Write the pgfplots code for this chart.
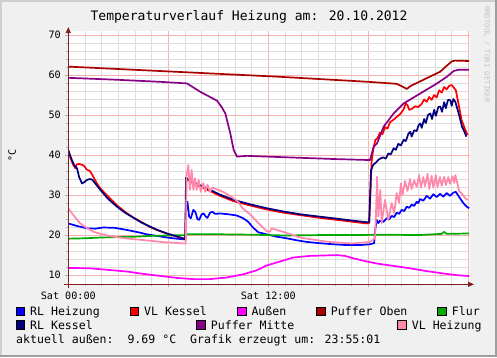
\documentclass[border=0pt]{standalone}
\usepackage{fontspec}
\setmainfont{DejaVu Sans Mono}
\usepackage{pgfplots}
\pgfplotsset{compat=1.18}
\usetikzlibrary{arrows.meta}
\definecolor{cRLH}{RGB}{0,0,255}
\definecolor{cVLK}{RGB}{255,0,0}
\definecolor{cAus}{RGB}{255,0,255}
\definecolor{cPO}{RGB}{170,0,0}
\definecolor{cFlur}{RGB}{0,170,0}
\definecolor{cRLK}{RGB}{0,0,128}
\definecolor{cPM}{RGB}{136,0,136}
\definecolor{cVLH}{RGB}{255,136,170}
\definecolor{cBack}{RGB}{240,240,240}
\definecolor{cShadeA}{RGB}{207,207,207}
\definecolor{cShadeB}{RGB}{158,158,158}
\definecolor{cGrid}{RGB}{222,222,222}
\definecolor{cMGrid}{RGB}{242,178,178}
\definecolor{cAxis}{RGB}{128,32,32}
\definecolor{cWater}{RGB}{195,195,195}
\begin{document}
\begin{tikzpicture}[x=1bp,y=1bp]
\fill[cBack] (0,0) rectangle (497,357);
\fill[cShadeA] (0,0) rectangle (2,357);
\fill[cShadeA] (0,355) rectangle (497,357);
\fill[cShadeB] (0,0) rectangle (497,2);
\fill[cShadeB] (495,0) rectangle (497,357);
\begin{axis}[
  at={(68.3bp,72.7bp)}, anchor=south west,
  scale only axis, width=401.7bp, height=253.3bp,
  xmin=0, xmax=24.1, ymin=7.7, ymax=71,
  axis background/.style={fill=white},
  axis line style={draw=none},
  grid=both,
  major grid style={draw=cMGrid, line width=0.8bp},
  minor grid style={draw=cGrid, line width=0.6bp},
  xtick={0,6,12,18,24}, xticklabels={Sat 00:00,,Sat 12:00,,},
  minor x tick num=5,
  ytick={10,20,30,40,50,60,70},
  minor y tick num=4,
  tick align=outside,
  major tick length=3bp, minor tick length=2bp,
  tick style={draw=gray!60, line width=0.6bp},
  xtick pos=bottom, ytick pos=left,
  /pgf/number format/assume math mode=true,
  ticklabel style={font=\fontsize{10.2}{12}\selectfont, text=black},
  xticklabel style={yshift=-1bp},
  yticklabel style={xshift=-1bp},
  every axis plot/.append style={line width=1.7bp, line join=round, mark=none},
]
% RL Heizung
\addplot[cRLH] coordinates {(0,22.9)(0.5,22.3)(1.1,21.7)(1.6,21.6)(2.1,21.9)(2.8,21.8)(3.5,21.3)(4.2,20.7)(4.7,20.2)(5.3,19.8)(5.9,19.4)(6.5,19.1)(7.02,18.9)(7.08,27.5)(7.15,28.3)(7.25,24.6)(7.35,24.2)(7.5,26.3)(7.62,25.8)(7.75,24.0)(7.85,23.8)(8.0,25.2)(8.12,25.4)(8.25,24.6)(8.35,24.3)(8.5,25.6)(8.65,25.8)(8.8,25.3)(9.1,25.4)(9.6,25.2)(10.1,24.9)(10.5,24.2)(10.8,23.3)(11.1,21.8)(11.4,20.7)(11.9,20.2)(12.5,19.6)(13.1,19.2)(13.7,18.7)(14.3,18.3)(15.0,18.0)(15.9,17.7)(16.7,17.5)(17.5,17.5)(18.1,17.7)(18.35,18.0)(18.42,21.5)(18.5,23.8)(18.6,23.0)(18.7,23.6)(18.9,23.3)(19.1,24.2)(19.25,23.9)(19.4,24.8)(19.55,24.5)(19.7,25.6)(19.85,25.3)(20.0,26.3)(20.15,26.0)(20.3,27.1)(20.45,26.8)(20.6,27.6)(20.75,27.3)(20.9,28.3)(21.0,28.0)(21.1,29.0)(21.3,28.6)(21.5,29.8)(21.7,29.1)(21.9,30.2)(22.1,29.5)(22.3,30.3)(22.5,29.6)(22.7,30.5)(22.9,29.8)(23.1,30.6)(23.25,30.8)(23.5,29.2)(23.7,28.0)(23.9,27.1)(24.05,26.7)};
% VL Kessel
\addplot[cVLK] coordinates {(0,41.0)(0.15,39.0)(0.3,37.5)(0.42,36.7)(0.5,37.6)(0.62,37.8)(0.8,37.6)(0.95,37.3)(1.1,36.4)(1.3,36.0)(1.5,34.6)(1.7,33.0)(1.92,31.7)(2.3,30.0)(2.9,27.5)(3.5,25.5)(3.9,24.4)(4.5,23.0)(4.9,22.0)(5.5,21.0)(5.9,20.4)(6.5,19.6)(7.02,19.0)(7.08,33.5)(7.2,33.8)(7.6,32.7)(8.3,31.4)(9.1,29.8)(9.9,28.5)(10.9,27.4)(11.9,26.4)(12.9,25.6)(13.9,25.0)(14.9,24.4)(15.9,23.9)(16.9,23.4)(17.9,22.9)(18.05,23.0)(18.2,38.5)(18.3,41.5)(18.42,43.8)(18.55,44.2)(18.7,45.6)(18.85,45.2)(19.0,47.0)(19.15,46.6)(19.3,48.2)(19.5,48.8)(19.7,49.5)(19.9,50.2)(20.1,51.3)(20.25,52.9)(20.35,52.5)(20.45,51.3)(20.6,51.5)(20.8,52.2)(21.0,52.0)(21.2,52.8)(21.35,53.9)(21.5,53.3)(21.65,54.5)(21.8,53.8)(21.95,55.0)(22.1,54.4)(22.25,56.2)(22.4,55.6)(22.55,57.0)(22.7,56.4)(22.85,57.3)(23.0,57.5)(23.1,57.0)(23.25,56.2)(23.4,53.0)(23.6,48.7)(23.8,46.5)(23.95,45.0)};
% Aussen
\addplot[cAus] coordinates {(0,11.8)(1.3,11.7)(2.4,11.3)(3.5,10.9)(4.5,10.3)(5.5,9.8)(6.5,9.3)(7.5,9.0)(8.5,9.0)(9.5,9.4)(10.5,10.2)(11.3,11.2)(11.9,12.4)(12.7,13.4)(13.5,14.4)(14.5,14.8)(15.3,14.9)(16.1,15.0)(16.6,14.8)(17.1,14.2)(17.8,13.5)(18.5,12.9)(19.5,12.3)(20.5,11.7)(21.5,11.0)(22.5,10.4)(23.3,10.0)(24.05,9.75)};
% Puffer Oben
\addplot[cPO] coordinates {(0,62.1)(5.5,61.0)(12.5,59.6)(18,58.3)(19.7,57.8)(20.15,56.9)(20.3,56.5)(20.55,57.3)(21.5,59.2)(22.3,60.8)(23.0,63.4)(23.2,63.6)(24.05,63.5)};
% Flur
\addplot[cFlur] coordinates {(0,19.1)(1,19.2)(2,19.4)(3,19.5)(4,19.6)(5,19.8)(6,19.9)(7,20.0)(7.1,20.2)(9,20.2)(11,20.1)(13,19.9)(15,20.0)(17,20.0)(19,20.1)(21,20.0)(22.4,20.3)(22.55,20.8)(22.7,20.3)(24.05,20.4)};
% RL Kessel
\addplot[cRLK] coordinates {(0,41.3)(0.1,40.0)(0.22,38.7)(0.35,37.5)(0.52,36.7)(0.65,34.5)(0.82,32.9)(0.95,33.2)(1.12,33.8)(1.3,34.0)(1.42,33.9)(1.6,33.0)(1.92,31.3)(2.4,29.0)(2.92,27.1)(3.4,25.6)(3.92,24.3)(4.4,23.1)(4.92,22.1)(5.4,21.2)(5.92,20.4)(6.5,19.7)(7.02,19.0)(7.06,34.3)(7.12,34.2)(7.3,33.6)(7.6,33.0)(8.0,32.3)(8.32,31.7)(9.1,30.1)(9.92,28.8)(10.9,27.7)(11.92,26.7)(12.9,25.9)(13.92,25.2)(14.9,24.7)(15.92,24.2)(16.9,23.7)(17.92,23.2)(18.05,23.3)(18.1,28.8)(18.16,36.2)(18.3,37.6)(18.45,38.1)(18.6,38.8)(18.75,39.2)(18.9,39.4)(19.05,39.1)(19.2,40.4)(19.35,40.2)(19.52,41.7)(19.65,41.3)(19.8,42.8)(19.95,42.4)(20.12,43.8)(20.25,43.5)(20.4,45.3)(20.52,45.8)(20.6,44.6)(20.75,46.2)(20.9,46.0)(21.02,47.5)(21.12,47.9)(21.2,46.8)(21.35,49.0)(21.45,48.0)(21.58,50.0)(21.72,50.4)(21.82,49.0)(21.95,51.3)(22.05,49.8)(22.2,52.0)(22.32,52.1)(22.42,50.8)(22.55,53.2)(22.65,51.7)(22.78,53.8)(22.92,53.7)(23.0,52.3)(23.1,54.0)(23.22,53.3)(23.42,50.4)(23.62,47.1)(23.75,46.0)(23.88,44.6)};
% Puffer Mitte
\addplot[cPM] coordinates {(0,59.3)(3,58.8)(5.52,58.3)(7.12,57.9)(7.92,55.8)(8.6,54.3)(8.92,53.6)(9.2,52.0)(9.42,50.4)(9.72,45.4)(9.92,41.3)(10.12,39.6)(10.72,39.8)(12,39.6)(14,39.3)(16,39.0)(18.1,38.75)(18.32,42.1)(18.52,42.9)(18.92,47.1)(19.52,50.4)(20.12,52.9)(21.12,55.4)(22.12,57.9)(22.72,59.6)(23.12,61.0)(23.4,61.3)(24.05,61.3)};
% VL Heizung
\addplot[cVLH] coordinates {(0,26.7)(0.3,25.0)(0.72,22.9)(1.1,21.8)(1.52,20.8)(2.1,20.1)(2.72,19.6)(3.6,19.1)(4.52,18.75)(5.8,18.2)(7.02,17.9)(7.05,18.0)(7.1,35.0)(7.2,37.5)(7.3,31.3)(7.4,36.3)(7.5,31.3)(7.6,34.2)(7.7,31.3)(7.82,33.8)(7.95,30.8)(8.1,33.0)(8.22,30.8)(8.35,32.6)(8.5,30.8)(8.65,31.9)(8.9,31.4)(9.3,30.8)(9.9,29.2)(10.2,28.3)(10.45,26.7)(10.9,25.2)(11.5,22.6)(11.9,21.0)(12.1,20.8)(12.2,21.7)(12.5,21.3)(12.9,20.8)(14.0,19.3)(15.6,18.3)(17.0,17.9)(18.1,18.3)(18.4,19.2)(18.45,24)(18.52,34.6)(18.6,24.6)(18.72,31.3)(18.8,23.0)(19.0,28.8)(19.2,23.8)(19.4,28.0)(19.55,25.5)(19.7,30.5)(19.85,28)(19.95,32.9)(20.05,30)(20.2,33.5)(20.35,31.0)(20.5,34.0)(20.6,31.5)(20.75,33.7)(20.9,32.0)(21.05,35.0)(21.15,31.8)(21.3,34.5)(21.4,32.2)(21.55,35.3)(21.65,31.5)(21.8,34.8)(21.9,31.8)(22.05,35.0)(22.15,32.0)(22.3,34.5)(22.4,32.3)(22.55,34.6)(22.65,32.5)(22.8,34.5)(22.9,32.8)(23.05,34.7)(23.15,33.0)(23.22,35.0)(23.45,31.0)(23.6,30.4)(23.8,29.3)(23.95,28.75)};
\end{axis}
% axis lines with arrows
\draw[cAxis, line width=1bp, -{Triangle[length=6bp,width=5bp]}] (64,72.7) -- (474,72.7);
\draw[cAxis, line width=1bp, -{Triangle[length=6bp,width=5bp]}] (68.3,69) -- (68.3,330);
% title
\node[anchor=base, font=\fontsize{13.1}{15}\selectfont] at (249,357-20.8) {Temperaturverlauf Heizung am: 20.10.2012};
% unit
\node[rotate=90, font=\fontsize{10.2}{12}\selectfont] at (12.3,357-155) {°C};
% watermark
\node[rotate=-90, anchor=west, inner sep=0pt, text=cWater, font=\fontsize{7.3}{9}\selectfont] at (487,357-6) {RRDTOOL / TOBI OETIKER};
% legend
\begin{scope}[font=\fontsize{11.6}{13}\selectfont]
\foreach \xx/\yy/\cc/\tt in {16/315.7/cRLH/RL Heizung, 130/315.7/cVLK/VL Kessel, 237.3/315.7/cAus/Außen, 316.7/315.7/cPO/Puffer Oben, 437.7/315.7/cFlur/Flur, 16/329.3/cRLK/RL Kessel, 196.7/329.3/cPM/Puffer Mitte, 397.7/329.3/cVLH/VL Heizung}{
  \filldraw[fill=\cc, draw=black, line width=0.8bp] (\xx,357-\yy) rectangle ++(8.6,8.6);
  \node[anchor=base west, inner sep=0pt] at (\xx+14,357-\yy) {\tt};
}
\node[anchor=base west, inner sep=0pt] at (16,357-343.5) {aktuell außen:\ \ 9.69 °C\ \ Grafik erzeugt um: 23:55:01};
\end{scope}
\pgfresetboundingbox
\path (0,0) rectangle (497,357);
\end{tikzpicture}
\end{document}
